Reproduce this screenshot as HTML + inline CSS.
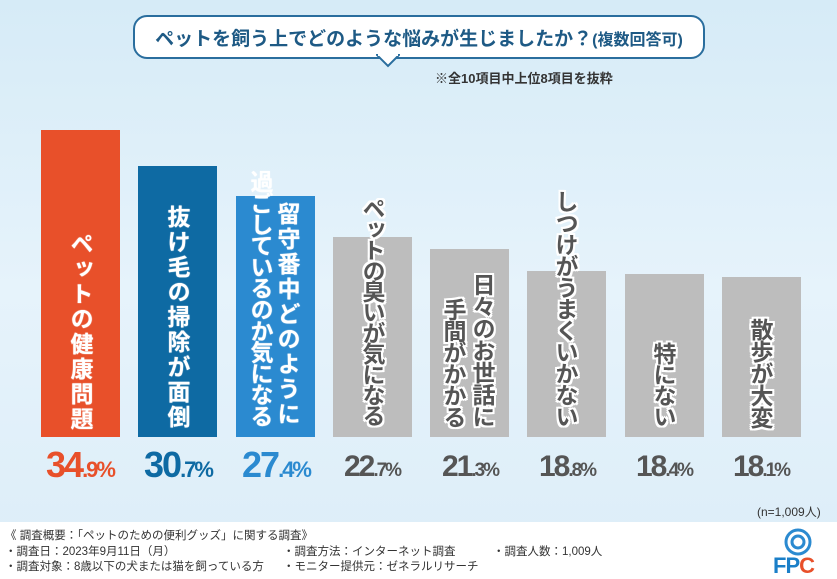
<!DOCTYPE html>
<html style="overflow:hidden;height:579px"><head><meta charset="utf-8"><style>
body{margin:0;width:837px;height:579px;overflow:hidden;position:relative;font-family:"Liberation Sans","Noto Sans CJK JP",sans-serif;background:linear-gradient(180deg,#d6ebf7 0%,#e6f3fb 50%,#dcedf8 100%);}
.abs{position:absolute}
.bar{position:absolute;width:79px;}
.lbl{position:absolute;writing-mode:vertical-rl;font-weight:bold;font-size:23px;line-height:30px;width:30px;white-space:nowrap;}
.w{color:#fff;text-shadow:0 0 1px #fff}
.g{color:#555;text-shadow:-2px 0 #fff,2px 0 #fff,0 -2px #fff,0 2px #fff,-2px -2px #fff,2px 2px #fff,-2px 2px #fff,2px -2px #fff}
.pct{position:absolute;top:444px;width:100px;text-align:center;font-weight:bold;letter-spacing:-2px;white-space:nowrap}
.pct b{font-size:36px}
.pct s{text-decoration:none;font-size:22px}
.ft{position:absolute;font-size:11.5px;color:#333;white-space:nowrap}
</style></head><body>
<div class="abs" style="left:133px;top:15px;width:568px;height:40px;border:2px solid #2a6e9e;border-radius:14px;background:#fff;"></div>
<svg class="abs" style="left:376px;top:54px" width="24" height="14"><polygon points="1,1 23,1 12,12" fill="#fff" stroke="#2a6e9e" stroke-width="2"/><rect x="2" y="0" width="20" height="2" fill="#fff"/></svg>
<div class="abs" style="left:133px;top:24px;width:572px;text-align:center;font-size:19px;font-weight:bold;color:#1e5a85;">ペットを飼う上でどのような悩みが生じましたか？<span style="font-size:16px">(複数回答可)</span></div>
<div class="abs" style="left:435px;top:68px;font-size:13px;font-weight:bold;color:#333">※全10項目中上位8項目を抜粋</div>

<div class="bar" style="left:41px;top:130px;height:307px;background:#e8502a"></div>
<div class="bar" style="left:138px;top:166px;height:271px;background:#0e6aa3"></div>
<div class="bar" style="left:236px;top:196px;height:241px;background:#2b8ad0"></div>
<div class="bar" style="left:333px;top:237px;height:200px;background:#bdbdbd"></div>
<div class="bar" style="left:430px;top:249px;height:188px;background:#bdbdbd"></div>
<div class="bar" style="left:527px;top:271px;height:166px;background:#bdbdbd"></div>
<div class="bar" style="left:625px;top:274px;height:163px;background:#bdbdbd"></div>
<div class="bar" style="left:722px;top:277px;height:160px;background:#bdbdbd"></div>

<div class="lbl w" style="left:65px;top:232px;letter-spacing:2px">ペットの健康問題</div>
<div class="lbl w" style="left:162px;top:205px;letter-spacing:2px">抜け毛の掃除が面倒</div>
<div class="lbl w" style="left:272px;top:202px;letter-spacing:2px">留守番中どのように</div>
<div class="lbl w" style="left:245px;top:170px;letter-spacing:-1.7px">過ごしているのか気になる</div>
<div class="lbl g" style="left:357px;top:197px;letter-spacing:-2.3px">ペットの臭いが気になる</div>
<div class="lbl g" style="left:467px;top:273px;letter-spacing:-1px">日々のお世話に</div>
<div class="lbl g" style="left:438px;top:298px;letter-spacing:-1.5px">手間がかかる</div>
<div class="lbl g" style="left:550px;top:190px;letter-spacing:-1.5px">しつけがうまくいかない</div>
<div class="lbl g" style="left:648px;top:342px;letter-spacing:-2px">特にない</div>
<div class="lbl g" style="left:745px;top:318px;letter-spacing:-1px">散歩が大変</div>

<div class="pct" style="left:30px;color:#e8502a"><b>34</b><s>.9%</s></div>
<div class="pct" style="left:128px;color:#0e6aa3"><b>30</b><s>.7%</s></div>
<div class="pct" style="left:226px;color:#2b8ad0"><b>27</b><s>.4%</s></div>
<div class="pct" style="left:322px;color:#555;top:450px"><b style="font-size:30px">22</b><s style="font-size:19px">.7%</s></div>
<div class="pct" style="left:420px;color:#555;top:450px"><b style="font-size:30px">21</b><s style="font-size:19px">.3%</s></div>
<div class="pct" style="left:517px;color:#555;top:450px"><b style="font-size:30px">18</b><s style="font-size:19px">.8%</s></div>
<div class="pct" style="left:614px;color:#555;top:450px"><b style="font-size:30px">18</b><s style="font-size:19px">.4%</s></div>
<div class="pct" style="left:711px;color:#555;top:450px"><b style="font-size:30px">18</b><s style="font-size:19px">.1%</s></div>

<div class="abs" style="left:757px;top:503px;font-size:12px;color:#333">(n=1,009人)</div>
<div class="abs" style="left:0;top:522px;width:837px;height:57px;background:#fff"></div>
<div class="ft" style="left:5px;top:527px">《 調査概要：「ペットのための便利グッズ」に関する調査》</div>
<div class="ft" style="left:5px;top:543px">・調査日：2023年9月11日（月）</div>
<div class="ft" style="left:283px;top:543px">・調査方法：インターネット調査</div>
<div class="ft" style="left:493px;top:543px">・調査人数：1,009人</div>
<div class="ft" style="left:5px;top:558px">・調査対象：8歳以下の犬または猫を飼っている方</div>
<div class="ft" style="left:283px;top:558px">・モニター提供元：ゼネラルリサーチ</div>
<svg class="abs" style="left:773px;top:527px" width="50" height="30"><circle cx="25" cy="15" r="12" fill="none" stroke="#2b8ad0" stroke-width="3"/><circle cx="25" cy="15" r="6" fill="none" stroke="#2b8ad0" stroke-width="3"/></svg>
<div class="abs" style="left:773px;top:553px;font-size:22px;font-weight:bold;color:#1a7fc8;letter-spacing:-1px">FP<span style="color:#e8502a">C</span></div>
</body></html>
